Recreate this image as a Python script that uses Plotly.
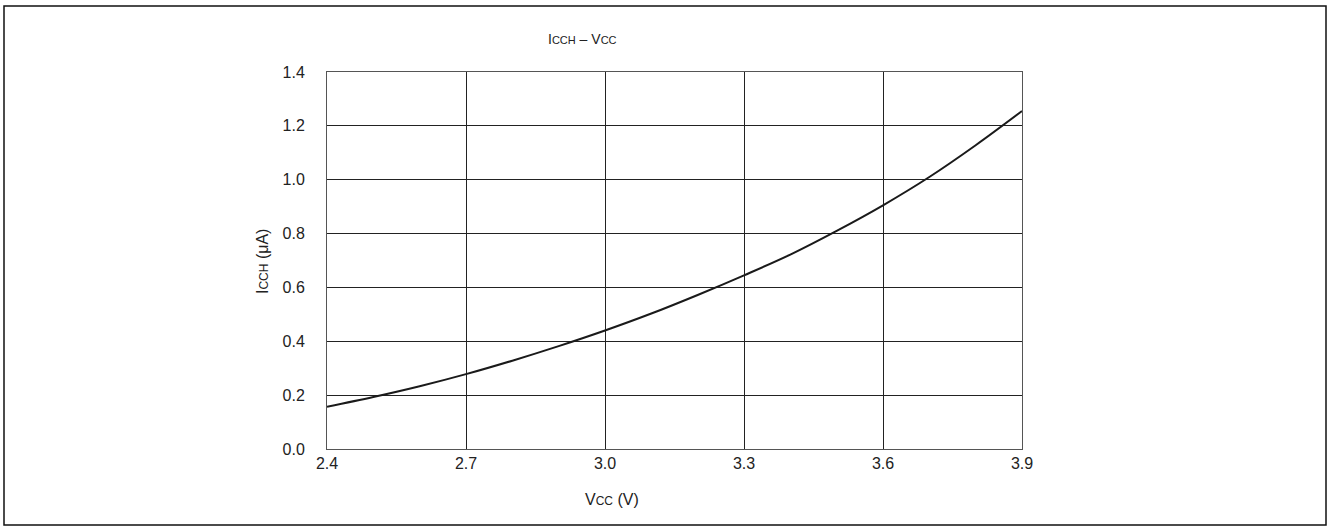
import plotly.graph_objects as go

vcc = [2.4, 2.5, 2.6, 2.7, 2.8, 2.9, 3.0, 3.1, 3.2, 3.3, 3.4, 3.5, 3.6, 3.7, 3.8, 3.9]
icch = [0.157, 0.193, 0.233, 0.278, 0.328, 0.382, 0.440, 0.503, 0.572, 0.645, 0.722, 0.810, 0.905, 1.010, 1.128, 1.255]
x_ticks = [2.4, 2.7, 3.0, 3.3, 3.6, 3.9]
y_ticks = [0.0, 0.2, 0.4, 0.6, 0.8, 1.0, 1.2, 1.4]

W, H = 1334, 527
L, R, T, B = 327, 1022, 72, 449
pw, ph = R - L, B - T

def px(xp):
    return (xp - L) / pw

def py(yp):
    return (B - yp) / ph

font = "Liberation Sans, Arial, sans-serif"
fig = go.Figure()
fig.add_trace(go.Scatter(x=vcc, y=icch, mode="lines", line=dict(color="#1a1a1a", width=2, shape="spline"),
                         showlegend=False, hoverinfo="skip"))

axcommon = dict(showgrid=True, gridcolor="#222222", gridwidth=1, showline=True, linecolor="#555555",
                linewidth=1, mirror=True, zeroline=False, ticks="",
                tickfont=dict(family=font, size=16, color="#222222"))
fig.update_xaxes(range=[2.4, 3.9], tickvals=x_ticks, ticktext=[f"{v:.1f}" for v in x_ticks],
                 ticklabelstandoff=0, **axcommon)
fig.update_yaxes(range=[0, 1.4], tickvals=y_ticks, ticktext=[f"{v:.1f}" for v in y_ticks],
                 ticklabelstandoff=18, **axcommon)

fig.add_shape(type="rect", xref="paper", yref="paper", x0=px(4), x1=px(1326), y0=py(525), y1=py(6),
              line=dict(color="#111111", width=1.5), fillcolor="rgba(0,0,0,0)", layer="below")

fig.add_annotation(text="I<span style='font-size:11px'>CCH</span> – V<span style='font-size:11px'>CC</span>",
                   xref="paper", yref="paper", x=px(582), y=py(39), showarrow=False,
                   font=dict(family=font, size=14, color="#222222"), xanchor="center", yanchor="middle")
fig.add_annotation(text="V<span style='font-size:12px'>CC</span> (V)",
                   xref="paper", yref="paper", x=px(612), y=py(499), showarrow=False,
                   font=dict(family=font, size=16, color="#222222"), xanchor="center", yanchor="middle")
fig.add_annotation(text="I<span style='font-size:12px'>CCH</span> (μA)",
                   xref="paper", yref="paper", x=px(262), y=py(262), showarrow=False, textangle=-90,
                   font=dict(family=font, size=16, color="#222222"), xanchor="center", yanchor="middle")

fig.update_layout(width=W, height=H, margin=dict(l=L, r=W - R, t=T, b=H - B),
                  paper_bgcolor="white", plot_bgcolor="white")
fig.write_html("out.html", config={"displayModeBar": False},
               post_script="document.body.style.margin='0px';document.body.style.overflow='hidden';")
